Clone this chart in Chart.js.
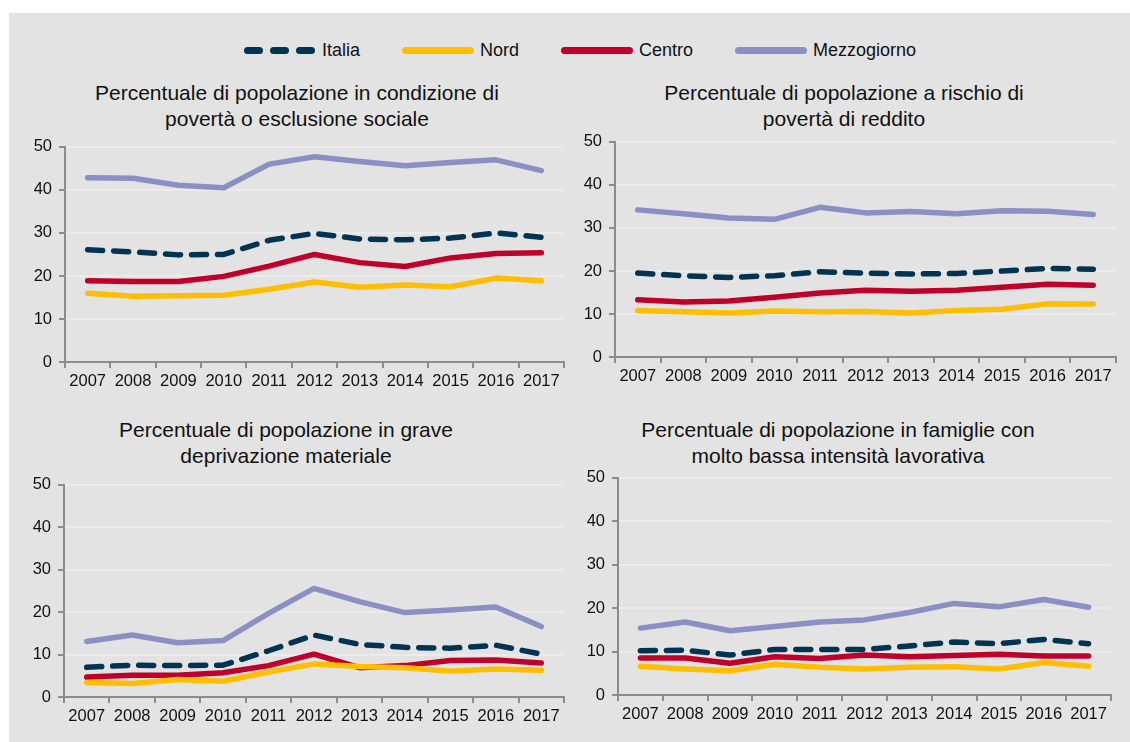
<!DOCTYPE html>
<html>
<head>
<meta charset="utf-8">
<title>Povertà ed esclusione sociale</title>
<script src="https://cdn.jsdelivr.net/npm/chart.js@4.4.1/dist/chart.umd.min.js"></script>
<style>
  body { margin: 0; background: #fff; width: 1130px; height: 742px; overflow: hidden; }
  #box { position: absolute; left: 9px; top: 13px; right: 0; bottom: 0; background: #e3e3e3; }
  .pane { position: absolute; }
  .ttl { position: absolute; width: 500px; text-align: center; font: 21px "Liberation Sans", Arial, sans-serif;
         line-height: 26px; color: #111; }
  #legend { position: absolute; left: 244px; top: 40px; display: flex; gap: 42px; align-items: center;
            font: 18px "Liberation Sans", Arial, sans-serif; color: #111; }
  .item { display: flex; align-items: center; gap: 6px; }
  .sw { width: 72px; height: 7px; border-radius: 4px; }
  .dash { display: flex; gap: 7px; width: 72px; }
  .dash span { width: 19px; height: 7px; border-radius: 4px; background: #023451; }
</style>
</head>
<body>
<div id="box"></div>

<div id="legend">
  <div class="item"><div class="dash"><span></span><span></span><span></span></div>Italia</div>
  <div class="item"><div class="sw" style="background:#ffbf00"></div>Nord</div>
  <div class="item"><div class="sw" style="background:#c0002b"></div>Centro</div>
  <div class="item"><div class="sw" style="background:#8a90c4"></div>Mezzogiorno</div>
</div>

<div class="ttl" style="left:47px; top:80px">Percentuale di popolazione in condizione di<br>povertà o esclusione sociale</div>
<div class="ttl" style="left:594px; top:80px">Percentuale di popolazione a rischio di<br>povertà di reddito</div>
<div class="ttl" style="left:36px; top:417px">Percentuale di popolazione in grave<br>deprivazione materiale</div>
<div class="ttl" style="left:588px; top:417px">Percentuale di popolazione in famiglie con<br>molto bassa intensità lavorativa</div>

<canvas id="c1" class="pane"></canvas>
<canvas id="c2" class="pane"></canvas>
<canvas id="c3" class="pane"></canvas>
<canvas id="c4" class="pane"></canvas>

<script>
const anni = ['2007','2008','2009','2010','2011','2012','2013','2014','2015','2016','2017'];

// povertà o esclusione sociale
const p1Italia = [26.1, 25.6, 24.9, 25.0, 28.3, 29.9, 28.6, 28.4, 28.8, 30.0, 29.0];
const p1Nord   = [16.0, 15.3, 15.4, 15.5, 16.9, 18.6, 17.4, 17.9, 17.5, 19.5, 18.9];
const p1Centro = [18.9, 18.7, 18.7, 19.9, 22.3, 25.0, 23.1, 22.2, 24.2, 25.2, 25.4];
const p1Mezzo  = [42.8, 42.7, 41.1, 40.5, 46.0, 47.7, 46.6, 45.6, 46.4, 47.0, 44.5];

// rischio di povertà di reddito
const p2Italia = [19.5, 18.9, 18.5, 18.9, 19.8, 19.5, 19.3, 19.4, 20.0, 20.6, 20.4];
const p2Nord   = [10.8, 10.5, 10.2, 10.7, 10.5, 10.6, 10.2, 10.8, 11.1, 12.4, 12.3];
const p2Centro = [13.3, 12.8, 13.0, 13.9, 14.9, 15.5, 15.3, 15.5, 16.2, 16.9, 16.7];
const p2Mezzo  = [34.2, 33.3, 32.3, 32.0, 34.8, 33.5, 33.8, 33.3, 34.0, 33.9, 33.1];

// grave deprivazione materiale
const p3Italia = [7.0, 7.5, 7.4, 7.5, 10.9, 14.6, 12.4, 11.7, 11.5, 12.2, 10.1];
const p3Nord   = [3.4, 3.2, 4.1, 3.7, 5.9, 7.8, 7.2, 6.9, 6.1, 6.6, 6.3];
const p3Centro = [4.7, 5.1, 5.1, 5.7, 7.4, 10.1, 6.9, 7.4, 8.6, 8.7, 8.0];
const p3Mezzo  = [13.1, 14.6, 12.8, 13.3, 19.7, 25.6, 22.5, 19.9, 20.5, 21.2, 16.6];

// bassa intensità lavorativa
const p4Italia = [10.2, 10.3, 9.2, 10.5, 10.5, 10.5, 11.3, 12.2, 11.8, 12.8, 11.8];
const p4Nord   = [6.6, 6.0, 5.6, 7.1, 6.4, 6.0, 6.4, 6.5, 6.0, 7.5, 6.6];
const p4Centro = [8.5, 8.5, 7.3, 8.8, 8.4, 9.2, 8.8, 9.1, 9.4, 9.0, 9.0];
const p4Mezzo  = [15.4, 16.8, 14.8, 15.8, 16.8, 17.3, 19.0, 21.1, 20.3, 22.0, 20.2];

const yTicks = [0, 10, 20, 30, 40, 50];

const AXW = 45, AXH = 35, PADT = 12, PADR = 10;

function grafico(id, axisX, xEnd, top, zero, it, nord, centro, mezzo) {
  const cv = document.getElementById(id);
  const w = (xEnd - axisX) + AXW + PADR;
  const h = (zero - top) + PADT + AXH;
  cv.style.left = (axisX - AXW) + 'px';
  cv.style.top = (top - PADT) + 'px';
  cv.style.width = w + 'px';
  cv.style.height = h + 'px';
  cv.width = w; cv.height = h;

  const linea = (label, data, color) => ({
    label, data, borderColor: color, backgroundColor: color, borderWidth: 5.5,
    pointRadius: 0, tension: 0, borderCapStyle: 'round', borderJoinStyle: 'round'
  });

  const chart = new Chart(cv, {
    type: 'line',
    data: {
      labels: anni,
      datasets: [
        linea('Mezzogiorno', mezzo, '#8a90c4'),
        linea('Nord', nord, '#ffbf00'),
        linea('Centro', centro, '#c0002b'),
        Object.assign(linea('Italia', it, '#023451'), { borderDash: [15, 11] })
      ]
    },
    options: {
      responsive: false,
      animation: false,
      layout: { padding: { top: PADT, right: PADR, left: 0, bottom: 0 } },
      plugins: { legend: { display: false }, tooltip: { enabled: false } },
      scales: {
        x: {
          offset: true,
          afterFit: s => { s.height = AXH; },
          border: { display: true, color: '#8c8c8c', width: 2 },
          grid: { offset: true, drawOnChartArea: false, drawTicks: true, tickLength: 6, tickColor: '#8c8c8c', lineWidth: 2 },
          ticks: { padding: 4, color: '#111', font: { family: 'Liberation Sans', size: 16.5 }, maxRotation: 0, autoSkip: false }
        },
        y: {
          min: 0, max: 50,
          afterFit: s => { s.width = AXW; },
          afterBuildTicks: s => { s.ticks = yTicks.map(v => ({ value: v })); },
          border: { display: true, color: '#8c8c8c', width: 2 },
          grid: { color: '#ebebeb', lineWidth: 2, tickLength: 6, tickColor: '#8c8c8c' },
          ticks: { padding: 7, color: '#111', font: { family: 'Liberation Sans', size: 16.5 } }
        }
      }
    }
  });

  // riallinea l'area del grafico alle posizioni volute
  const ca = chart.chartArea;
  const p = chart.options.layout.padding;
  p.top = PADT - (ca.top - PADT);
  p.bottom = -(h - AXH - ca.bottom);
  p.left = -(ca.left - AXW);
  p.right = PADR - (w - PADR - ca.right);
  chart.update();
}

grafico('c1', 65, 564, 142, 362, p1Italia, p1Nord, p1Centro, p1Mezzo);
grafico('c2', 615, 1116, 137, 357, p2Italia, p2Nord, p2Centro, p2Mezzo);
grafico('c3', 64, 564, 480, 697, p3Italia, p3Nord, p3Centro, p3Mezzo);
grafico('c4', 618, 1111, 473, 695, p4Italia, p4Nord, p4Centro, p4Mezzo);
</script>
</body>
</html>
